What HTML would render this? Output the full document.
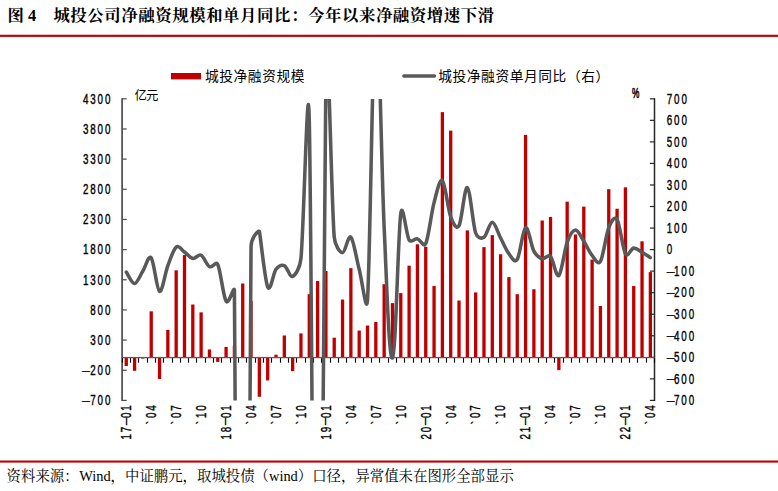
<!DOCTYPE html>
<html lang="zh-CN">
<head>
<meta charset="utf-8">
<title>图4 城投公司净融资规模和单月同比</title>
<style>
html,body{margin:0;padding:0;background:#fff;}
body{width:778px;height:491px;overflow:hidden;font-family:"Liberation Sans",sans-serif;}
svg{display:block;}
text{white-space:pre;}
</style>
</head>
<body>
<svg width="778" height="491" viewBox="0 0 778 491">
<rect x="0" y="0" width="778" height="491" fill="#fff"/>
<text x="7.60" y="20.70" font-family="'Liberation Serif','Noto Serif CJK SC',serif" font-size="16.4" font-weight="bold" textLength="16.95" lengthAdjust="spacing" fill="#000">图</text>
<text x="28" y="21.4" font-family="Liberation Serif" font-weight="bold" font-size="16.4" fill="#000">4</text>
<text x="53.40" y="20.70" font-family="'Liberation Serif','Noto Serif CJK SC',serif" font-size="16.4" font-weight="bold" textLength="440.70" lengthAdjust="spacing" fill="#000">城投公司净融资规模和单月同比：今年以来净融资增速下滑</text>
<rect x="0" y="34.75" width="778" height="2.15" fill="#c00000"/>
<rect x="171" y="73" width="30" height="6.4" fill="#c00000"/>
<text x="205.00" y="81.30" font-family="'Liberation Sans','Noto Sans CJK SC',sans-serif" font-size="13.7" textLength="99.40" lengthAdjust="spacing" fill="#000">城投净融资规模</text>
<line x1="403.8" y1="76.0" x2="434.5" y2="76.0" stroke="#595959" stroke-width="3.4" stroke-linecap="round"/>
<text x="438.20" y="81.30" font-family="'Liberation Sans','Noto Sans CJK SC',sans-serif" font-size="13.7" textLength="171.00" lengthAdjust="spacing" fill="#000">城投净融资单月同比（右）</text>
<text x="134.40" y="100.00" font-family="'Liberation Sans','Noto Sans CJK SC',sans-serif" font-size="12.4" textLength="24.00" lengthAdjust="spacing" fill="#000">亿元</text>
<text transform="translate(632.0 97.7) scale(0.6 1)" font-family="Liberation Sans" font-size="13.8" fill="#000" stroke="#000" stroke-width="0.55">%</text>
<g fill="#c00000"><rect x="124.61" y="357.72" width="3.3" height="8.27"/><rect x="132.93" y="357.72" width="3.3" height="13.11"/><rect x="141.25" y="357.72" width="3.3" height="0.85"/><rect x="149.57" y="311.33" width="3.3" height="46.39"/><rect x="157.89" y="357.72" width="3.3" height="21.26"/><rect x="166.20" y="329.82" width="3.3" height="27.90"/><rect x="174.52" y="270.32" width="3.3" height="87.40"/><rect x="182.84" y="255.04" width="3.3" height="102.68"/><rect x="191.16" y="304.51" width="3.3" height="53.21"/><rect x="199.48" y="312.36" width="3.3" height="45.36"/><rect x="207.80" y="349.45" width="3.3" height="8.27"/><rect x="216.12" y="357.72" width="3.3" height="4.17"/><rect x="224.44" y="346.91" width="3.3" height="10.81"/><rect x="232.76" y="345.82" width="3.3" height="11.90"/><rect x="241.08" y="283.49" width="3.3" height="74.23"/><rect x="249.39" y="300.94" width="3.3" height="56.78"/><rect x="257.71" y="357.72" width="3.3" height="39.08"/><rect x="266.03" y="357.72" width="3.3" height="22.71"/><rect x="274.35" y="354.70" width="3.3" height="3.02"/><rect x="282.67" y="335.49" width="3.3" height="22.23"/><rect x="290.99" y="357.72" width="3.3" height="13.41"/><rect x="299.31" y="333.38" width="3.3" height="24.34"/><rect x="307.63" y="294.18" width="3.3" height="63.54"/><rect x="315.95" y="281.01" width="3.3" height="76.71"/><rect x="324.27" y="270.99" width="3.3" height="86.73"/><rect x="332.58" y="337.67" width="3.3" height="20.05"/><rect x="340.90" y="299.55" width="3.3" height="58.17"/><rect x="349.22" y="268.15" width="3.3" height="89.57"/><rect x="357.54" y="330.54" width="3.3" height="27.18"/><rect x="365.86" y="325.53" width="3.3" height="32.19"/><rect x="374.18" y="321.96" width="3.3" height="35.76"/><rect x="382.50" y="284.21" width="3.3" height="73.51"/><rect x="390.82" y="303.12" width="3.3" height="54.60"/><rect x="399.14" y="293.09" width="3.3" height="64.63"/><rect x="407.46" y="265.67" width="3.3" height="92.05"/><rect x="415.77" y="244.29" width="3.3" height="113.43"/><rect x="424.09" y="246.77" width="3.3" height="110.95"/><rect x="432.41" y="285.96" width="3.3" height="71.76"/><rect x="440.73" y="112.13" width="3.3" height="245.59"/><rect x="449.05" y="130.62" width="3.3" height="227.10"/><rect x="457.37" y="300.58" width="3.3" height="57.14"/><rect x="465.69" y="230.40" width="3.3" height="127.32"/><rect x="474.01" y="292.43" width="3.3" height="65.29"/><rect x="482.33" y="247.13" width="3.3" height="110.59"/><rect x="490.65" y="235.11" width="3.3" height="122.61"/><rect x="498.96" y="254.25" width="3.3" height="103.47"/><rect x="507.28" y="277.09" width="3.3" height="80.63"/><rect x="515.60" y="294.18" width="3.3" height="63.54"/><rect x="523.92" y="134.90" width="3.3" height="222.82"/><rect x="532.24" y="289.23" width="3.3" height="68.49"/><rect x="540.56" y="220.49" width="3.3" height="137.23"/><rect x="548.88" y="216.93" width="3.3" height="140.79"/><rect x="557.20" y="357.72" width="3.3" height="12.38"/><rect x="565.52" y="201.65" width="3.3" height="156.07"/><rect x="573.84" y="234.50" width="3.3" height="123.22"/><rect x="582.15" y="206.60" width="3.3" height="151.12"/><rect x="590.47" y="259.63" width="3.3" height="98.09"/><rect x="598.79" y="305.96" width="3.3" height="51.76"/><rect x="607.11" y="189.14" width="3.3" height="168.58"/><rect x="615.43" y="208.71" width="3.3" height="149.01"/><rect x="623.75" y="187.33" width="3.3" height="170.39"/><rect x="632.07" y="286.03" width="3.3" height="71.69"/><rect x="640.39" y="241.33" width="3.3" height="116.39"/><rect x="648.71" y="272.07" width="3.3" height="85.65"/></g>
<rect x="121.25" y="98.2" width="1.7" height="302.79999999999995" fill="#4d4d4d"/>
<g fill="#4d4d4d"><rect x="122" y="98.20" width="4.7" height="1.2"/><rect x="122" y="128.36" width="4.7" height="1.2"/><rect x="122" y="158.52" width="4.7" height="1.2"/><rect x="122" y="188.68" width="4.7" height="1.2"/><rect x="122" y="218.84" width="4.7" height="1.2"/><rect x="122" y="249.00" width="4.7" height="1.2"/><rect x="122" y="279.16" width="4.7" height="1.2"/><rect x="122" y="309.32" width="4.7" height="1.2"/><rect x="122" y="339.48" width="4.7" height="1.2"/><rect x="122" y="369.64" width="4.7" height="1.2"/><rect x="122" y="399.80" width="4.7" height="1.2"/></g>
<rect x="653.75" y="98.2" width="1.5" height="302.79999999999995" fill="#262626"/>
<g fill="#262626"><rect x="649.9" y="98.20" width="4.6" height="1.2"/><rect x="649.9" y="119.74" width="4.6" height="1.2"/><rect x="649.9" y="141.29" width="4.6" height="1.2"/><rect x="649.9" y="162.83" width="4.6" height="1.2"/><rect x="649.9" y="184.37" width="4.6" height="1.2"/><rect x="649.9" y="205.91" width="4.6" height="1.2"/><rect x="649.9" y="227.46" width="4.6" height="1.2"/><rect x="649.9" y="249.00" width="4.6" height="1.2"/><rect x="649.9" y="270.54" width="4.6" height="1.2"/><rect x="649.9" y="292.09" width="4.6" height="1.2"/><rect x="649.9" y="313.63" width="4.6" height="1.2"/><rect x="649.9" y="335.17" width="4.6" height="1.2"/><rect x="649.9" y="356.71" width="4.6" height="1.2"/><rect x="649.9" y="378.26" width="4.6" height="1.2"/><rect x="649.9" y="399.80" width="4.6" height="1.2"/></g>
<rect x="122.0" y="356.92" width="532.5" height="1.3" fill="#5a5a5a"/>
<g fill="#000"><rect x="121.95" y="358.12" width="1.1" height="4.6"/><rect x="129.95" y="358.12" width="1.1" height="4.6"/><rect x="137.95" y="358.12" width="1.1" height="4.6"/><rect x="146.95" y="358.12" width="1.1" height="4.6"/><rect x="154.95" y="358.12" width="1.1" height="4.6"/><rect x="162.95" y="358.12" width="1.1" height="4.6"/><rect x="171.95" y="358.12" width="1.1" height="4.6"/><rect x="179.95" y="358.12" width="1.1" height="4.6"/><rect x="187.95" y="358.12" width="1.1" height="4.6"/><rect x="195.95" y="358.12" width="1.1" height="4.6"/><rect x="204.95" y="358.12" width="1.1" height="4.6"/><rect x="212.95" y="358.12" width="1.1" height="4.6"/><rect x="220.95" y="358.12" width="1.1" height="4.6"/><rect x="229.95" y="358.12" width="1.1" height="4.6"/><rect x="237.95" y="358.12" width="1.1" height="4.6"/><rect x="245.95" y="358.12" width="1.1" height="4.6"/><rect x="254.95" y="358.12" width="1.1" height="4.6"/><rect x="262.95" y="358.12" width="1.1" height="4.6"/><rect x="270.95" y="358.12" width="1.1" height="4.6"/><rect x="279.95" y="358.12" width="1.1" height="4.6"/><rect x="287.95" y="358.12" width="1.1" height="4.6"/><rect x="295.95" y="358.12" width="1.1" height="4.6"/><rect x="304.95" y="358.12" width="1.1" height="4.6"/><rect x="312.95" y="358.12" width="1.1" height="4.6"/><rect x="320.95" y="358.12" width="1.1" height="4.6"/><rect x="329.95" y="358.12" width="1.1" height="4.6"/><rect x="337.95" y="358.12" width="1.1" height="4.6"/><rect x="345.95" y="358.12" width="1.1" height="4.6"/><rect x="354.95" y="358.12" width="1.1" height="4.6"/><rect x="362.95" y="358.12" width="1.1" height="4.6"/><rect x="370.95" y="358.12" width="1.1" height="4.6"/><rect x="378.95" y="358.12" width="1.1" height="4.6"/><rect x="387.95" y="358.12" width="1.1" height="4.6"/><rect x="395.95" y="358.12" width="1.1" height="4.6"/><rect x="403.95" y="358.12" width="1.1" height="4.6"/><rect x="412.95" y="358.12" width="1.1" height="4.6"/><rect x="420.95" y="358.12" width="1.1" height="4.6"/><rect x="428.95" y="358.12" width="1.1" height="4.6"/><rect x="437.95" y="358.12" width="1.1" height="4.6"/><rect x="445.95" y="358.12" width="1.1" height="4.6"/><rect x="453.95" y="358.12" width="1.1" height="4.6"/><rect x="462.95" y="358.12" width="1.1" height="4.6"/><rect x="470.95" y="358.12" width="1.1" height="4.6"/><rect x="478.95" y="358.12" width="1.1" height="4.6"/><rect x="487.95" y="358.12" width="1.1" height="4.6"/><rect x="495.95" y="358.12" width="1.1" height="4.6"/><rect x="503.95" y="358.12" width="1.1" height="4.6"/><rect x="512.95" y="358.12" width="1.1" height="4.6"/><rect x="520.95" y="358.12" width="1.1" height="4.6"/><rect x="528.95" y="358.12" width="1.1" height="4.6"/><rect x="537.95" y="358.12" width="1.1" height="4.6"/><rect x="545.95" y="358.12" width="1.1" height="4.6"/><rect x="553.95" y="358.12" width="1.1" height="4.6"/><rect x="562.95" y="358.12" width="1.1" height="4.6"/><rect x="570.95" y="358.12" width="1.1" height="4.6"/><rect x="578.95" y="358.12" width="1.1" height="4.6"/><rect x="586.95" y="358.12" width="1.1" height="4.6"/><rect x="595.95" y="358.12" width="1.1" height="4.6"/><rect x="603.95" y="358.12" width="1.1" height="4.6"/><rect x="611.95" y="358.12" width="1.1" height="4.6"/><rect x="620.95" y="358.12" width="1.1" height="4.6"/><rect x="628.95" y="358.12" width="1.1" height="4.6"/><rect x="636.95" y="358.12" width="1.1" height="4.6"/><rect x="645.95" y="358.12" width="1.1" height="4.6"/><rect x="653.95" y="358.12" width="1.1" height="4.6"/></g>
<g font-family="Liberation Sans" font-size="14.0" letter-spacing="2.7" fill="#000" stroke="#000" stroke-width="0.4"><text transform="translate(112.3 103.60) scale(0.7 1)" text-anchor="end">4300</text><text transform="translate(112.3 133.76) scale(0.7 1)" text-anchor="end">3800</text><text transform="translate(112.3 163.92) scale(0.7 1)" text-anchor="end">3300</text><text transform="translate(112.3 194.08) scale(0.7 1)" text-anchor="end">2800</text><text transform="translate(112.3 224.24) scale(0.7 1)" text-anchor="end">2300</text><text transform="translate(112.3 254.40) scale(0.7 1)" text-anchor="end">1800</text><text transform="translate(112.3 284.56) scale(0.7 1)" text-anchor="end">1300</text><text transform="translate(112.3 314.72) scale(0.7 1)" text-anchor="end">800</text><text transform="translate(112.3 344.88) scale(0.7 1)" text-anchor="end">300</text><text transform="translate(112.3 375.04) scale(0.7 1)" text-anchor="end"><tspan font-size="11.2" dy="-1.4" letter-spacing="0.6">—</tspan><tspan dy="1.4">200</tspan></text><text transform="translate(112.3 405.20) scale(0.7 1)" text-anchor="end"><tspan font-size="11.2" dy="-1.4" letter-spacing="0.6">—</tspan><tspan dy="1.4">700</tspan></text><text transform="translate(666.7 103.60) scale(0.7 1)">700</text><text transform="translate(666.7 125.14) scale(0.7 1)">600</text><text transform="translate(666.7 146.69) scale(0.7 1)">500</text><text transform="translate(666.7 168.23) scale(0.7 1)">400</text><text transform="translate(666.7 189.77) scale(0.7 1)">300</text><text transform="translate(666.7 211.31) scale(0.7 1)">200</text><text transform="translate(666.7 232.86) scale(0.7 1)">100</text><text transform="translate(666.7 254.40) scale(0.7 1)">0</text><text transform="translate(666.7 275.94) scale(0.7 1)"><tspan font-size="11.2" dy="-1.4" letter-spacing="-0.8">—</tspan><tspan dy="1.4">100</tspan></text><text transform="translate(666.7 297.49) scale(0.7 1)"><tspan font-size="11.2" dy="-1.4" letter-spacing="-0.8">—</tspan><tspan dy="1.4">200</tspan></text><text transform="translate(666.7 319.03) scale(0.7 1)"><tspan font-size="11.2" dy="-1.4" letter-spacing="-0.8">—</tspan><tspan dy="1.4">300</tspan></text><text transform="translate(666.7 340.57) scale(0.7 1)"><tspan font-size="11.2" dy="-1.4" letter-spacing="-0.8">—</tspan><tspan dy="1.4">400</tspan></text><text transform="translate(666.7 362.11) scale(0.7 1)"><tspan font-size="11.2" dy="-1.4" letter-spacing="-0.8">—</tspan><tspan dy="1.4">500</tspan></text><text transform="translate(666.7 383.66) scale(0.7 1)"><tspan font-size="11.2" dy="-1.4" letter-spacing="-0.8">—</tspan><tspan dy="1.4">600</tspan></text><text transform="translate(666.7 405.20) scale(0.7 1)"><tspan font-size="11.2" dy="-1.4" letter-spacing="-0.8">—</tspan><tspan dy="1.4">700</tspan></text></g>
<g font-family="Liberation Sans" font-size="14.0" letter-spacing="2.7" fill="#000" stroke="#000" stroke-width="0.4"><text transform="translate(131.06 403.4) rotate(-90) scale(0.7 1)" text-anchor="end">17<tspan font-size="10.4" letter-spacing="-0.4" dy="-2.5" dx="-0.4">—</tspan><tspan dy="2.5">01</tspan></text><text transform="translate(156.02 403.4) rotate(-90) scale(0.7 1)" text-anchor="end"><tspan dy="1.1">`</tspan><tspan dy="-1.1" dx="1.6">04</tspan></text><text transform="translate(180.97 403.4) rotate(-90) scale(0.7 1)" text-anchor="end"><tspan dy="1.1">`</tspan><tspan dy="-1.1" dx="1.6">07</tspan></text><text transform="translate(205.93 403.4) rotate(-90) scale(0.7 1)" text-anchor="end"><tspan dy="1.1">`</tspan><tspan dy="-1.1" dx="1.6">10</tspan></text><text transform="translate(230.89 403.4) rotate(-90) scale(0.7 1)" text-anchor="end">18<tspan font-size="10.4" letter-spacing="-0.4" dy="-2.5" dx="-0.4">—</tspan><tspan dy="2.5">01</tspan></text><text transform="translate(255.84 403.4) rotate(-90) scale(0.7 1)" text-anchor="end"><tspan dy="1.1">`</tspan><tspan dy="-1.1" dx="1.6">04</tspan></text><text transform="translate(280.80 403.4) rotate(-90) scale(0.7 1)" text-anchor="end"><tspan dy="1.1">`</tspan><tspan dy="-1.1" dx="1.6">07</tspan></text><text transform="translate(305.76 403.4) rotate(-90) scale(0.7 1)" text-anchor="end"><tspan dy="1.1">`</tspan><tspan dy="-1.1" dx="1.6">10</tspan></text><text transform="translate(330.72 403.4) rotate(-90) scale(0.7 1)" text-anchor="end">19<tspan font-size="10.4" letter-spacing="-0.4" dy="-2.5" dx="-0.4">—</tspan><tspan dy="2.5">01</tspan></text><text transform="translate(355.67 403.4) rotate(-90) scale(0.7 1)" text-anchor="end"><tspan dy="1.1">`</tspan><tspan dy="-1.1" dx="1.6">04</tspan></text><text transform="translate(380.63 403.4) rotate(-90) scale(0.7 1)" text-anchor="end"><tspan dy="1.1">`</tspan><tspan dy="-1.1" dx="1.6">07</tspan></text><text transform="translate(405.59 403.4) rotate(-90) scale(0.7 1)" text-anchor="end"><tspan dy="1.1">`</tspan><tspan dy="-1.1" dx="1.6">10</tspan></text><text transform="translate(430.54 403.4) rotate(-90) scale(0.7 1)" text-anchor="end">20<tspan font-size="10.4" letter-spacing="-0.4" dy="-2.5" dx="-0.4">—</tspan><tspan dy="2.5">01</tspan></text><text transform="translate(455.50 403.4) rotate(-90) scale(0.7 1)" text-anchor="end"><tspan dy="1.1">`</tspan><tspan dy="-1.1" dx="1.6">04</tspan></text><text transform="translate(480.46 403.4) rotate(-90) scale(0.7 1)" text-anchor="end"><tspan dy="1.1">`</tspan><tspan dy="-1.1" dx="1.6">07</tspan></text><text transform="translate(505.41 403.4) rotate(-90) scale(0.7 1)" text-anchor="end"><tspan dy="1.1">`</tspan><tspan dy="-1.1" dx="1.6">10</tspan></text><text transform="translate(530.37 403.4) rotate(-90) scale(0.7 1)" text-anchor="end">21<tspan font-size="10.4" letter-spacing="-0.4" dy="-2.5" dx="-0.4">—</tspan><tspan dy="2.5">01</tspan></text><text transform="translate(555.33 403.4) rotate(-90) scale(0.7 1)" text-anchor="end"><tspan dy="1.1">`</tspan><tspan dy="-1.1" dx="1.6">04</tspan></text><text transform="translate(580.29 403.4) rotate(-90) scale(0.7 1)" text-anchor="end"><tspan dy="1.1">`</tspan><tspan dy="-1.1" dx="1.6">07</tspan></text><text transform="translate(605.24 403.4) rotate(-90) scale(0.7 1)" text-anchor="end"><tspan dy="1.1">`</tspan><tspan dy="-1.1" dx="1.6">10</tspan></text><text transform="translate(630.20 403.4) rotate(-90) scale(0.7 1)" text-anchor="end">22<tspan font-size="10.4" letter-spacing="-0.4" dy="-2.5" dx="-0.4">—</tspan><tspan dy="2.5">01</tspan></text><text transform="translate(655.16 403.4) rotate(-90) scale(0.7 1)" text-anchor="end"><tspan dy="1.1">`</tspan><tspan dy="-1.1" dx="1.6">04</tspan></text></g>
<clipPath id="pc"><rect x="119.0" y="98.9" width="538.0" height="301.6"/></clipPath>
<path d="M126.26 272.08C127.65 273.99 131.81 283.69 134.58 283.51C137.35 283.33 140.12 275.28 142.90 271.00C145.67 266.72 148.44 254.46 151.22 257.84C153.99 261.22 156.76 289.99 159.54 291.28C162.31 292.57 165.08 272.98 167.85 265.61C170.63 258.24 173.40 249.32 176.17 247.06C178.95 244.79 181.72 250.11 184.49 252.02C187.27 253.93 190.04 257.95 192.81 258.49C195.58 259.03 198.36 253.89 201.13 255.26C203.90 256.62 206.68 265.14 209.45 266.69C212.22 268.23 215.90 260.66 217.77 264.53C220.54 270.28 223.31 296.85 226.09 301.20C228.86 305.55 234.31 283.91 234.41 290.63C237.18 479.67 239.95 1442.80 242.73 1435.43C245.50 1428.06 248.27 447.06 251.04 246.41C251.16 237.89 258.53 229.50 259.36 231.53C260.20 233.55 264.91 280.67 267.68 286.97C270.46 293.26 273.23 272.84 276.00 269.28C278.77 265.72 281.55 264.42 284.32 265.61C287.09 266.80 289.87 277.58 292.64 276.40C295.41 275.21 299.91 268.31 300.96 258.49C303.73 232.46 307.73 50.97 309.28 120.22C312.05 244.47 314.82 1012.02 317.60 1004.00C320.37 995.98 323.14 199.93 325.92 72.11C327.71 -10.48 331.46 207.04 334.23 237.14C335.04 245.91 339.78 252.67 342.55 252.67C345.33 252.67 348.10 234.37 350.87 237.14C353.65 239.90 356.42 258.78 359.19 269.28C361.96 279.78 366.52 316.07 367.51 300.12C370.28 255.40 373.06 13.04 375.83 0.93C378.60 -11.19 381.38 167.93 384.15 227.43C386.92 286.93 389.00 360.86 392.47 357.94C395.93 355.01 398.01 233.07 400.79 213.41C402.73 199.64 406.33 235.70 409.11 239.94C411.40 243.45 414.65 238.25 417.42 238.86C420.20 239.47 423.75 247.96 425.74 243.61C428.52 237.57 431.29 213.12 434.06 202.62C436.84 192.12 439.61 178.25 442.38 180.62C445.15 182.99 447.93 209.34 450.70 216.86C452.80 222.55 456.25 230.59 459.02 225.70C461.79 220.81 464.57 186.30 467.34 187.52C470.11 188.74 472.88 224.73 475.66 233.04C477.14 237.48 481.20 239.15 483.98 237.35C486.75 235.55 489.52 222.14 492.30 222.25C495.07 222.36 497.84 232.75 500.61 238.00C503.39 243.25 506.16 250.19 508.93 253.75C511.71 257.31 514.56 263.58 517.25 259.35C520.03 255.00 522.80 229.01 525.57 227.64C528.34 226.28 531.12 245.98 533.89 251.16C536.54 256.11 539.44 257.81 542.21 258.71C544.98 259.61 547.76 253.75 550.53 256.55C553.30 259.35 556.07 277.91 558.85 275.53C561.62 273.16 564.39 249.90 567.17 242.31C569.71 235.34 572.71 230.20 575.49 230.02C578.26 229.84 581.03 236.99 583.80 241.23C586.58 245.48 589.35 252.13 592.12 255.47C594.90 258.81 597.84 265.65 600.44 261.30C603.22 256.66 605.99 234.62 608.76 227.64C610.92 222.22 614.31 215.10 617.08 219.45C619.85 223.80 622.63 248.96 625.40 253.75C627.92 258.09 630.95 248.39 633.72 248.14C636.49 247.89 639.26 250.65 642.04 252.24C644.81 253.82 648.97 256.73 650.36 257.63" fill="none" stroke="#595959" stroke-width="3.55" stroke-linejoin="round" stroke-linecap="round" clip-path="url(#pc)"/>
<rect x="0" y="460.5" width="778" height="2.1" fill="#c00000"/>
<text x="6.60" y="481.20" font-family="'Liberation Serif','Noto Serif CJK SC',serif" font-size="14.4" textLength="72.00" lengthAdjust="spacing" fill="#000">资料来源：</text>
<text x="79.20" y="481.20" font-family="Liberation Serif" font-size="14.4" fill="#000">Wind</text>
<text x="110.60" y="481.20" font-family="'Liberation Serif','Noto Serif CJK SC',serif" font-size="14.4" textLength="158.40" lengthAdjust="spacing" fill="#000">，中证鹏元，取城投债（</text>
<text x="269.00" y="481.20" font-family="Liberation Serif" font-size="14.4" fill="#000">wind</text>
<text x="297.80" y="481.20" font-family="'Liberation Serif','Noto Serif CJK SC',serif" font-size="14.4" textLength="216.00" lengthAdjust="spacing" fill="#000">）口径，异常值未在图形全部显示</text>
</svg>
</body>
</html>
